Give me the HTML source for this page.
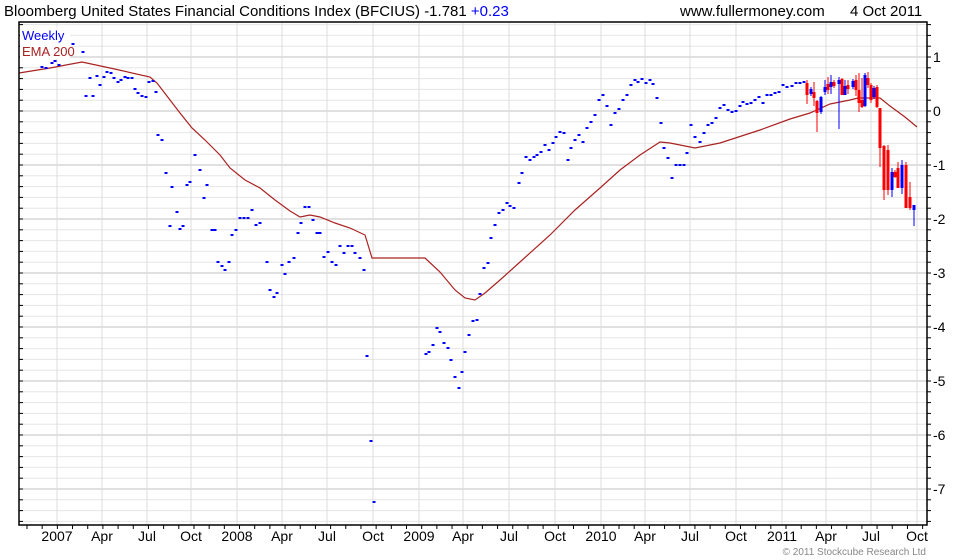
<!DOCTYPE html>
<html><head><meta charset="utf-8"><style>
body{margin:0;background:#fff;width:980px;height:560px;overflow:hidden;font-family:"Liberation Sans",sans-serif}
svg{position:absolute;left:0;top:0}
text{font-family:"Liberation Sans",sans-serif}
</style></head><body>
<svg id="s" width="980" height="560" xmlns="http://www.w3.org/2000/svg">
<g id="grid"></g>
<g id="data"></g>
<rect x="19" y="22" width="908" height="503" fill="none" stroke="#000" stroke-width="1.5"/>
<text x="4" y="16" font-size="15" fill="#000">Bloomberg United States Financial Conditions Index (BFCIUS) -1.781 <tspan fill="#0000ff">+0.23</tspan></text>
<text x="680" y="16" font-size="15" fill="#000">www.fullermoney.com</text>
<text x="850" y="16" font-size="15" fill="#000">4 Oct 2011</text>
<rect x="20" y="27" width="50" height="32" fill="#fff"/>
<text x="22" y="40" font-size="13" fill="#0000ff">Weekly</text>
<text x="22" y="56" font-size="13" fill="#aa2222">EMA 200</text>
<g font-size="14" fill="#000">
<text x="933" y="62">1</text><text x="933" y="116">0</text><text x="933" y="170">-1</text><text x="933" y="224">-2</text><text x="933" y="278">-3</text><text x="933" y="332">-4</text><text x="933" y="386">-5</text><text x="933" y="440">-6</text><text x="933" y="494">-7</text>
</g>
<g font-size="14" fill="#000" text-anchor="middle">
<text x="57" y="541">2007</text><text x="102" y="541">Apr</text><text x="147" y="541">Jul</text><text x="191" y="541">Oct</text>
<text x="237" y="541">2008</text><text x="282" y="541">Apr</text><text x="327" y="541">Jul</text><text x="373" y="541">Oct</text>
<text x="419" y="541">2009</text><text x="463" y="541">Apr</text><text x="509" y="541">Jul</text><text x="555" y="541">Oct</text>
<text x="601" y="541">2010</text><text x="645" y="541">Apr</text><text x="690" y="541">Jul</text><text x="736" y="541">Oct</text>
<text x="782" y="541">2011</text><text x="826" y="541">Apr</text><text x="871" y="541">Jul</text><text x="917" y="541">Oct</text>
</g>
<text x="926" y="555" font-size="10" fill="#888" text-anchor="end">© 2011 Stockcube Research Ltd</text>
</svg>
<script>
var ns="http://www.w3.org/2000/svg";
function el(p,t,a){var e=document.createElementNS(ns,t);for(var k in a)e.setAttribute(k,a[k]);document.getElementById(p).appendChild(e);return e;}
for(var i=0;i<=46;i++){var v=1.6-i*0.2;var y=111-v*54;if(y<23||y>524)continue;var maj=Math.abs(v-Math.round(v))<0.01;
el('grid','line',{x1:19,x2:927,y1:y,y2:y,stroke:maj?'#c0c0c0':'#e6e6e6','stroke-width':1});
el('grid','line',{x1:927,x2:931,y1:y,y2:y,stroke:'#000'});el('grid','line',{x1:19,x2:23,y1:y,y2:y,stroke:'#000'});}
var mx=[57,102,147,191,237,282,327,373,419,463,509,555,601,645,690,736,782,826,871,917];
mx.forEach(function(x){el('grid','line',{x1:x,x2:x,y1:23,y2:525,stroke:'#dcdcdc'});});
for(var x=27;x<927;x+=15.18){el('grid','line',{x1:x,x2:x,y1:525,y2:529,stroke:'#000'});}
var ema=[[19,73],[50,68],[82,62],[110,68],[150,77],[157,83],[170,100],[180,113],[192,128],[205,140],[220,155],[230,168],[245,180],[260,188],[275,200],[290,211],[300,217],[310,215],[320,217],[335,223],[350,228],[365,235],[372,258],[425,258],[440,272],[455,290],[465,298],[475,300],[485,293],[500,280],[520,262],[550,235],[575,210],[600,188],[620,170],[640,155],[660,142],[670,143],[695,148],[720,143],[760,130],[790,119],[810,113],[830,104],[850,100],[858,98],[880,98],[890,106],[905,117],[917,127]];
el('data','polyline',{points:ema.map(function(p){return p.join(',')}).join(' '),fill:'none',stroke:'#aa2222','stroke-width':1.2});
var d=[[42,67],[46,68],[52,63],[55,61],[59,65],[73,44],[83,52],[86,96],[93,96],[90,78],[97,76],[100,85],[104,77],[107,72],[111,73],[114,78],[118,82],[121,80],[125,77],[128,78],[132,78],[135,89],[138,93],[142,96],[146,97],[149,82],[153,81],[156,92],[158,135],[162,140],[166,173],[172,187],[177,212],[170,226],[180,229],[183,226],[187,185],[190,182],[195,155],[200,170],[204,198],[207,185],[212,230],[215,230],[218,262],[222,266],[225,270],[229,262],[232,235],[236,230],[240,218],[244,218],[248,218],[252,210],[256,225],[260,223],[267,262],[270,290],[274,297],[277,293],[282,265],[285,274],[289,262],[294,258],[298,233],[301,223],[305,207],[309,207],[313,220],[317,233],[320,233],[324,257],[328,252],[332,262],[336,265],[340,246],[344,253],[348,246],[352,246],[355,253],[360,258],[364,270],[367,356],[371,441],[374,502],[426,354],[429,352],[433,345],[437,328],[440,332],[444,343],[448,348],[451,360],[455,377],[459,388],[462,372],[465,352],[469,335],[473,321],[477,320],[480,294],[484,268],[488,263],[491,238],[495,225],[499,213],[503,210],[507,203],[510,206],[514,208],[519,183],[522,173],[526,157],[530,160],[534,157],[537,155],[541,152],[545,145],[549,150],[553,143],[556,137],[560,132],[564,133],[568,160],[571,148],[575,140],[579,135],[583,142],[587,128],[591,122],[595,115],[599,100],[603,95],[607,106],[611,125],[615,113],[619,109],[623,100],[627,95],[631,85],[635,80],[638,82],[642,79],[646,83],[650,80],[653,84],[657,98],[661,123],[664,148],[668,158],[672,178],[676,165],[680,165],[684,165],[687,153],[691,125],[695,137],[700,142],[704,133],[708,125],[712,123],[716,118],[720,108],[724,105],[728,110],[732,112],[736,111],[740,106],[743,102],[747,104],[751,103],[755,100],[759,97],[763,103],[767,95],[771,95],[775,93],[779,92],[783,85],[787,87],[792,86],[796,83],[800,83],[804,82]];
d.forEach(function(p){el('data','rect',{x:p[0]-1.5,y:p[1]-1,width:3,height:2,fill:'#0000ff'});});
var c=[[807,'r',83,95,80,104],[811,'b',89,94,87,96],[814,'r',92,98,82,106],[817,'r',101,113,100,132],[821,'b',97,112,96,114],[825,'b',87,92,80,95],[828,'r',84,90,77,94],[831,'b',82,87,75,94],[834,'r',82,86,80,88],[839,'b',80,84,77,129],[842,'r',79,95,78,95],[845,'b',86,95,80,95],[848,'r',85,89,80,94],[853,'b',81,87,79,89],[856,'r',80,90,75,96],[859,'r',90,103,73,112],[862,'r',100,107,78,108],[865,'b',75,106,73,107],[868,'r',78,85,72,88],[871,'r',85,100,83,103],[874,'b',88,97,86,99],[877,'r',87,107,85,108],[880,'r',108,148,108,167],[884,'r',146,190,145,200],[888,'r',150,190,145,195],[892,'b',172,190,168,197],[895,'r',172,177,170,178],[898,'r',168,188,162,188],[902,'b',165,188,160,194],[906,'r',165,208,162,208],[910,'r',197,208,182,210],[914,'b',205,210,205,226]];
c.forEach(function(k){var col=k[1]=='r'?'#ff0000':'#0000ff';
el('data','line',{x1:k[0],x2:k[0],y1:k[4],y2:k[5],stroke:col,'stroke-width':1});
el('data','rect',{x:k[0]-1.5,y:k[2],width:3,height:Math.max(1,k[3]-k[2]),fill:col});});
</script>
</body></html>
